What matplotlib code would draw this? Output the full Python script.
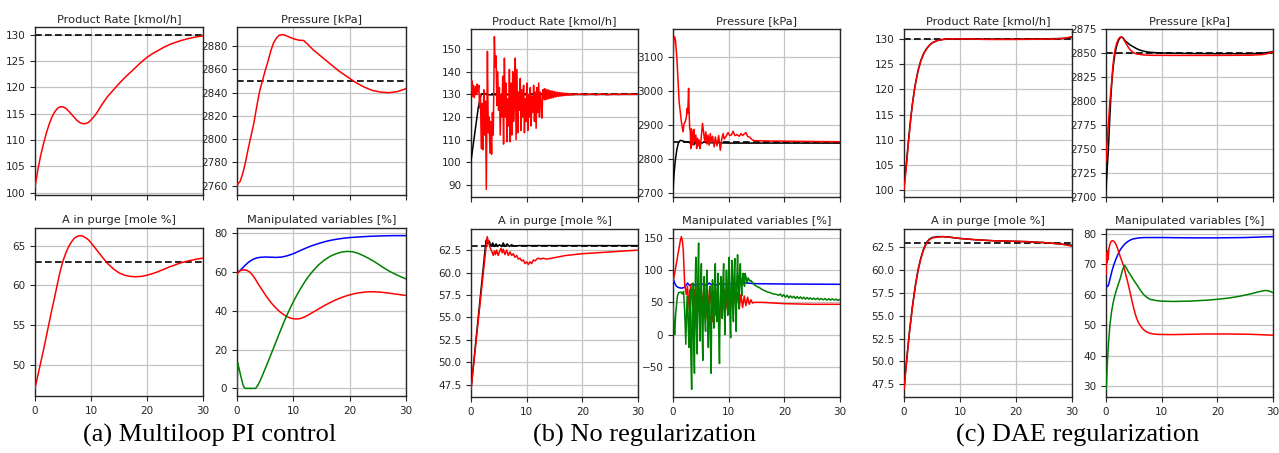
import numpy as np
import matplotlib
matplotlib.use('Agg')
import matplotlib.pyplot as plt
from matplotlib.ticker import MultipleLocator

# %%
# setpoints
sp_rate = 130
sp_press = 2850
sp_purge = 63

# ---- (a) Multiloop PI control ----
a_rate = [(0, 101.0), (0.5, 104.3), (1, 107.0), (1.5, 109.2), (2, 111.2), (2.5, 112.9), (3, 114.3),
          (3.5, 115.3), (4, 116.0), (4.5, 116.3), (5, 116.3), (5.5, 116.0), (6, 115.5), (6.5, 114.9),
          (7, 114.3), (7.5, 113.7), (8, 113.3), (8.5, 113.1), (9, 113.1), (9.5, 113.3), (10, 113.8),
          (10.5, 114.4), (11, 115.1), (12, 116.8), (13, 118.3), (14, 119.5), (15, 120.7), (16, 121.8),
          (17, 122.8), (18, 123.8), (19, 124.8), (20, 125.7), (21, 126.4), (22, 127.0), (23, 127.6),
          (24, 128.1), (25, 128.5), (26, 128.85), (27, 129.15), (28, 129.4), (29, 129.6), (30, 129.75)]
a_press = [(0, 2758.5), (0.2, 2762), (0.5, 2763), (1, 2770), (1.5, 2780), (2, 2792), (2.5, 2803),
           (3, 2814), (3.5, 2828), (4, 2841), (4.5, 2850), (5, 2859), (5.5, 2867), (6, 2876),
           (6.5, 2883), (7, 2887), (7.5, 2889.5), (8, 2890), (8.5, 2889.5), (9, 2888.5), (10, 2886.5),
           (11, 2885.2), (11.8, 2885), (12.5, 2882), (13.5, 2877), (15, 2871), (16.5, 2865), (18, 2859),
           (19.5, 2854), (21, 2849), (22.5, 2845), (24, 2842), (25.5, 2840.5), (27, 2840),
           (28.5, 2841), (30, 2843.5)]
a_purge = [(0, 47), (0.5, 48.6), (1, 50.2), (1.5, 51.8), (2, 53.5), (2.5, 55.2), (3, 56.9), (3.5, 58.5),
           (4, 60.2), (4.5, 61.8), (5, 63.1), (5.5, 64.1), (6, 64.9), (6.5, 65.5), (7, 65.95), (7.5, 66.2),
           (8, 66.3), (8.5, 66.25), (9, 66.05), (9.5, 65.8), (10, 65.4), (11, 64.5), (12, 63.6),
           (13, 62.75), (14, 62.1), (15, 61.6), (16, 61.3), (17, 61.15), (18, 61.1), (19, 61.15),
           (20, 61.3), (21, 61.5), (22, 61.75), (23, 62.05), (24, 62.35), (25, 62.6), (26, 62.85),
           (27, 63.05), (28, 63.2), (29, 63.35), (30, 63.45)]
a_mv_blue = [(0, 64.5), (0.1, 59.5), (0.5, 60.5), (1, 62), (1.5, 63.5), (2, 64.8), (2.5, 65.8), (3, 66.6),
             (3.5, 67.1), (4, 67.4), (5, 67.6), (6, 67.5), (7, 67.4), (8, 67.6), (9, 68.3), (10, 69.3),
             (11, 70.6), (12, 71.9), (13, 73.1), (14, 74.1), (15, 75.0), (16, 75.8), (17, 76.4),
             (18, 76.9), (19, 77.3), (20, 77.6), (22, 78.0), (24, 78.3), (26, 78.5), (28, 78.6), (30, 78.6)]
a_mv_red = [(0, 58.5), (0.3, 60), (0.7, 60.8), (1.2, 61), (1.7, 60.8), (2.2, 60), (2.7, 58.5), (3.2, 56.5),
            (3.7, 54), (4.2, 51.8), (4.7, 49.6), (5.2, 47.4), (5.7, 45.4), (6.2, 43.6), (6.7, 42.0),
            (7.2, 40.5), (7.7, 39.2), (8.2, 38.1), (8.7, 37.2), (9.2, 36.5), (9.7, 36.0), (10.2, 35.8),
            (10.7, 35.7), (11.2, 35.9), (11.7, 36.4), (12.5, 37.5), (13.5, 39.2), (14.5, 40.9),
            (15.5, 42.6), (16.5, 44.1), (17.5, 45.5), (18.5, 46.7), (19.5, 47.7), (20.5, 48.5),
            (21.5, 49.1), (22.5, 49.5), (23.5, 49.7), (24.5, 49.7), (25.5, 49.5), (26.5, 49.2),
            (27.5, 48.8), (28.5, 48.4), (29.5, 48.0), (30, 47.8)]
a_mv_green = [(0, 0), (0.15, 13), (0.3, 11), (0.7, 6), (1.1, 1.5), (1.4, 0), (3.3, 0), (3.7, 1.5),
              (4.2, 4.5), (4.7, 8), (5.2, 11.5), (5.7, 15), (6.2, 18.7), (6.7, 22.3), (7.2, 26),
              (7.7, 29.6), (8.2, 33.2), (8.7, 36.6), (9.2, 39.8), (9.7, 42.8), (10.2, 45.7), (10.7, 48.4),
              (11.2, 50.9), (11.7, 53.3), (12.2, 55.6), (12.7, 57.6), (13.5, 60.5), (14.5, 63.6),
              (15.5, 66.0), (16.5, 67.9), (17.5, 69.2), (18.5, 70.1), (19.5, 70.5), (20.5, 70.3),
              (21.5, 69.5), (22.5, 68.2), (23.5, 66.7), (24.5, 65.0), (25.5, 63.1), (26.5, 61.2),
              (27.5, 59.6), (28.5, 58.2), (29.5, 56.9), (30, 56.3)]

# ---- (b) No regularization ----
b_rate_black = [(0, 100.5), (1.3, 124), (1.8, 130), (2.5, 130.3), (3, 129.8), (30, 130)]
b_rate_red = [(0.0, 132), (0.15, 136), (0.3, 129), (0.45, 134), (0.6, 128.5), (0.8, 133.5), (0.95, 130),
              (1.1, 134.5), (1.25, 131), (1.4, 134), (1.55, 124), (1.7, 130), (1.85, 106), (2.0, 126),
              (2.15, 105.5), (2.3, 132), (2.45, 112), (2.6, 127), (2.75, 88), (2.95, 149), (3.1, 113),
              (3.25, 120), (3.4, 104), (3.55, 118), (3.7, 103.5), (3.85, 122), (4.0, 112), (4.2, 155.5),
              (4.35, 142), (4.5, 147), (4.65, 125), (4.8, 140), (4.95, 123), (5.1, 133), (5.25, 112),
              (5.4, 130), (5.55, 120), (5.7, 138), (5.85, 108), (6.0, 146), (6.15, 120), (6.3, 135),
              (6.45, 109), (6.6, 128), (6.75, 116), (6.9, 141), (7.05, 109), (7.2, 135), (7.35, 112),
              (7.5, 140), (7.65, 118), (7.8, 128), (7.95, 146), (8.1, 110), (8.25, 141), (8.4, 113),
              (8.55, 131), (8.7, 123), (8.85, 137), (9.0, 114), (9.15, 132), (9.3, 120), (9.45, 134),
              (9.6, 113), (9.75, 128), (9.9, 118), (10.05, 135), (10.2, 114), (10.35, 130), (10.5, 120),
              (10.65, 133), (10.8, 116), (10.95, 129), (11.1, 122), (11.25, 134), (11.4, 118),
              (11.55, 131), (11.7, 115), (11.85, 133), (12.0, 122), (12.15, 135), (12.3, 120),
              (12.45, 131), (12.6, 126), (12.75, 119.5), (12.9, 132), (13.05, 128), (13.2, 132.5),
              (13.3, 127.5), (13.45, 132.2), (13.6, 127.8), (13.75, 132), (13.9, 128), (14.05, 131.8),
              (14.2, 128.2), (14.35, 131.6), (14.5, 128.4), (14.65, 131.4), (14.8, 128.6), (14.95, 131.2),
              (15.1, 128.8), (15.25, 131.0), (15.4, 129.0), (15.55, 130.9), (15.7, 129.1), (15.85, 130.8),
              (16.0, 129.2), (16.15, 130.7), (16.3, 129.3), (16.45, 130.6), (16.6, 129.4), (16.75, 130.5),
              (16.9, 129.5), (17.05, 130.4), (17.2, 129.6), (17.35, 130.4), (17.5, 129.6), (17.65, 130.3),
              (17.8, 129.7), (17.95, 130.3), (18.1, 129.7), (18.25, 130.2), (18.4, 129.8), (18.6, 130.1),
              (19.5, 130), (20, 130.3), (20.3, 129.8), (21, 130), (22, 130.2), (22.3, 129.8), (23, 130),
              (24, 130.2), (24.3, 129.8), (25.5, 130), (26, 130.2), (26.3, 129.9), (27, 130), (30, 130)]
b_press_black = [(0, 2712), (0.2, 2760), (0.4, 2795), (0.7, 2830), (1.0, 2850), (1.3, 2856), (1.6, 2855),
                 (2.0, 2853), (2.4, 2851), (2.8, 2852), (3.2, 2846), (3.5, 2852), (3.8, 2844), (4.1, 2851),
                 (4.4, 2847), (4.8, 2851), (5.2, 2848), (5.6, 2851), (6, 2849), (8, 2849), (10, 2848),
                 (30, 2848)]
b_press_red = [(0.0, 3100), (0.15, 3150), (0.3, 3161), (0.45, 3150), (0.7, 3097), (1.1, 2970), (1.5, 2911),
               (1.8, 2881), (2.0, 2905), (2.2, 2911), (2.4, 2925), (2.55, 2950), (2.65, 2935), (2.8, 3009),
               (2.9, 2940), (3.0, 2891), (3.1, 2885), (3.2, 2832), (3.3, 2890), (3.45, 2880), (3.6, 2842),
               (3.75, 2888), (3.9, 2852), (4.1, 2872), (4.25, 2832), (4.4, 2862), (4.55, 2840),
               (4.7, 2857), (4.85, 2832), (5.0, 2850), (5.3, 2906), (5.5, 2880), (5.7, 2852), (5.9, 2881),
               (6.1, 2845), (6.3, 2872), (6.5, 2842), (6.7, 2876), (6.9, 2850), (7.1, 2868), (7.4, 2837),
               (7.6, 2866), (7.9, 2840), (8.2, 2870), (8.5, 2827), (8.75, 2860), (9.0, 2876), (9.2, 2860),
               (9.5, 2867), (9.9, 2879), (10.2, 2870), (10.5, 2872), (10.8, 2883), (11.1, 2870),
               (11.5, 2873), (11.9, 2868), (12.2, 2876), (12.5, 2870), (12.8, 2875), (13.1, 2879),
               (13.4, 2868), (13.8, 2865), (14.2, 2858), (14.6, 2855), (18, 2854), (24, 2853), (30, 2852)]
b_purge_black = [(0, 47), (2.7, 63.6), (3.0, 63.2), (3.3, 63.5), (3.6, 62.9), (3.9, 63.3), (4.2, 62.9),
                 (4.5, 63.2), (4.8, 62.9), (5.1, 63.1), (5.5, 62.9), (5.8, 63.3), (6.1, 62.9), (6.5, 63.2),
                 (6.9, 62.9), (7.3, 63.1), (7.7, 62.95), (8.5, 63), (30, 63)]
b_purge_red = [(0, 47), (2.9, 64.0), (3.1, 63.5), (3.4, 62.8), (3.7, 62.4), (4.0, 61.9), (4.2, 62.4),
               (4.4, 62.0), (4.6, 62.5), (4.9, 61.9), (5.1, 62.3), (5.4, 62.7), (5.6, 62.2), (5.8, 62.6),
               (6.1, 62.0), (6.4, 62.5), (6.7, 61.9), (7.0, 62.3), (7.3, 61.9), (7.6, 62.1), (7.9, 61.7),
               (8.2, 61.9), (8.5, 61.5), (8.8, 61.6), (9.1, 61.3), (9.4, 61.4), (9.7, 61.0), (10.0, 61.2),
               (10.3, 60.9), (10.6, 61.2), (10.9, 61.0), (11.2, 61.4), (11.5, 61.3), (12, 61.6),
               (12.5, 61.5), (13, 61.6), (13.5, 61.5), (14.5, 61.6), (17, 61.9), (20, 62.1), (25, 62.3),
               (30, 62.5)]
b_mv_blue = [(0, 88), (0.3, 80), (0.6, 75), (1, 73), (1.5, 72), (2, 73), (2.3, 76), (2.6, 80), (3, 76),
             (3.5, 79), (4, 76), (4.5, 80), (5, 77), (5.5, 79), (6, 76), (6.5, 80), (7, 77), (7.5, 79),
             (8, 76), (8.5, 80), (9, 77), (9.5, 79), (10, 78), (11, 79), (12, 81), (13, 80), (15, 79),
             (20, 78.5), (30, 78)]
b_mv_red = [(0, 83), (0.3, 95), (0.7, 115), (1.0, 130), (1.3, 145), (1.5, 152), (1.7, 145), (1.85, 130),
            (2.1, 78), (2.4, 62), (2.6, 75), (2.9, 40), (3.2, 78), (3.5, 45), (3.8, 70), (4.1, 30),
            (4.4, 76), (4.7, 35), (5.0, 72), (5.3, 45), (5.6, 78), (5.9, 25), (6.2, 70), (6.5, 40),
            (6.8, 75), (7.1, 20), (7.4, 68), (7.7, 30), (8.0, 72), (8.3, 10), (8.6, 65), (8.9, 35),
            (9.2, 70), (9.5, 40), (9.8, 65), (10.1, 35), (10.4, 60), (10.7, 40), (11.0, 68), (11.3, 42),
            (11.6, 65), (11.9, 40), (12.2, 62), (12.5, 42), (12.8, 60), (13.1, 45), (13.4, 58),
            (13.7, 47), (14.0, 54), (14.3, 49), (14.6, 50), (16, 50), (20, 48), (25, 47), (30, 47)]
b_mv_green = [(0, 47), (0.15, 20), (0.3, 0), (0.5, 35), (0.8, 60), (1.0, 65), (1.4, 66), (1.7, 63),
              (1.9, 67), (2.1, 35), (2.3, -15), (2.45, 40), (2.6, 60), (2.75, 10), (2.9, -20), (3.0, 45),
              (3.1, 70), (3.2, -30), (3.35, -85), (3.45, 20), (3.6, 80), (3.7, 0), (3.85, -60), (3.95, 60),
              (4.1, 120), (4.2, 10), (4.35, -30), (4.45, 80), (4.6, 142), (4.7, 40), (4.85, -10),
              (4.95, 70), (5.1, 110), (5.2, 20), (5.35, -40), (5.45, 50), (5.6, 90), (5.7, 30), (5.85, 5),
              (5.95, 70), (6.1, 100), (6.2, 30), (6.35, -20), (6.45, 40), (6.6, 75), (6.7, 0), (6.85, -60),
              (6.95, 40), (7.1, 85), (7.2, 40), (7.35, 10), (7.45, 70), (7.6, 110), (7.7, 50), (7.85, 20),
              (7.95, 60), (8.1, 95), (8.2, 10), (8.35, -45), (8.45, 40), (8.6, 90), (8.7, 50), (8.85, 25),
              (8.95, 80), (9.1, 110), (9.2, 40), (9.35, 0), (9.45, 60), (9.6, 100), (9.7, 60), (9.85, 30),
              (9.95, 90), (10.1, 120), (10.2, 40), (10.35, -5), (10.45, 70), (10.6, 115), (10.7, 60),
              (10.85, 20), (10.95, 90), (11.1, 118), (11.2, 50), (11.35, 5), (11.45, 80), (11.6, 124),
              (11.7, 80), (11.85, 40), (11.95, 90), (12.1, 110), (12.2, 80), (12.35, 60), (12.45, 85),
              (12.6, 95), (12.7, 80), (12.85, 75), (12.95, 95), (13.1, 90), (13.3, 80), (13.5, 88),
              (13.8, 83), (14.0, 84), (14.5, 78), (15, 75), (15.5, 73), (16, 70), (16.5, 68), (17, 66),
              (17.5, 65), (18, 63), (18.5, 62.5), (19, 61), (19.3, 63), (19.6, 59), (19.9, 62), (20.2, 58),
              (20.5, 61), (20.8, 57), (21.1, 60), (21.4, 57), (21.7, 59.5), (22, 56), (22.3, 59),
              (22.6, 56), (22.9, 58.5), (23.2, 55.5), (23.5, 58), (23.8, 55), (24.1, 57.5), (24.4, 55),
              (24.7, 57), (25, 54.5), (25.3, 56.5), (25.6, 54.5), (26, 56.5), (26.3, 54), (26.6, 56),
              (27, 54), (27.3, 56), (27.6, 53.5), (28, 55.5), (28.3, 53.5), (28.6, 55.5), (29, 53.5),
              (29.3, 55), (29.6, 53), (30, 54.5)]

# ---- (c) DAE regularization ----
c_rate_black = [(0, 100.7), (0.25, 103.4), (0.5, 106.2), (0.75, 109.3), (1.0, 112.1), (1.25, 114.8),
                (1.5, 117.1), (1.75, 119.1), (2.0, 120.9), (2.5, 123.7), (3.0, 125.7), (3.5, 127.1),
                (4.0, 128.0), (4.5, 128.7), (5.0, 129.2), (6, 129.7), (7, 129.9), (8, 130.0), (10, 130.0),
                (15, 129.95), (20, 129.95), (25, 130.0), (28.5, 130.1), (30, 130.3)]
c_rate_red = [(0, 100.2), (0.25, 102.8), (0.5, 105.7), (0.75, 109.0), (1.0, 111.8), (1.25, 114.6),
              (1.5, 117.0), (1.75, 119.0), (2.0, 120.8), (2.5, 123.6), (3.0, 125.6), (3.5, 127.0),
              (4.0, 128.0), (4.5, 128.7), (5.0, 129.2), (6, 129.7), (7, 129.9), (8, 130.0), (10, 130.0),
              (15, 129.9), (20, 129.9), (25, 129.95), (27, 130.0), (28.5, 130.1), (30, 130.45)]
c_press_black = [(0, 2708), (0.2, 2728), (0.42, 2749), (0.63, 2776), (0.84, 2801), (1.05, 2820),
                 (1.3, 2836), (1.6, 2849), (1.9, 2857), (2.2, 2862.5), (2.5, 2865.5), (2.8, 2866.7),
                 (3.1, 2865.5), (3.4, 2863), (3.7, 2861.5), (4.3, 2858.5), (4.9, 2856.5), (5.5, 2854.5),
                 (6.1, 2853), (6.7, 2852), (7.5, 2851), (8.5, 2850.5), (10, 2850), (15, 2849.5),
                 (20, 2849.3), (26, 2849.3), (28, 2849.8), (29, 2850.5), (30, 2851.5)]
c_press_red = [(0, 2737), (0.2, 2757), (0.42, 2775), (0.7, 2800), (1.0, 2819), (1.2, 2834), (1.4, 2845),
               (1.65, 2854), (1.9, 2860), (2.2, 2864), (2.5, 2866.5), (2.8, 2866.7), (3.1, 2865),
               (3.4, 2862), (3.7, 2859), (4.0, 2856), (4.4, 2853), (4.9, 2850.5), (5.5, 2849), (6.7, 2848),
               (8, 2847.6), (12, 2847.5), (20, 2847.5), (26, 2847.7), (28, 2848.3), (29, 2849.3),
               (30, 2851.5)]
c_purge_black = [(0, 47.0), (0.25, 48.7), (0.5, 50.3), (0.75, 51.9), (1.0, 53.4), (1.5, 56.0), (2.0, 58.2),
                 (2.5, 60.0), (3.0, 61.3), (3.5, 62.3), (4.0, 63.0), (4.5, 63.35), (5.0, 63.55), (6.0, 63.65),
                 (7.0, 63.65), (8.0, 63.6), (10, 63.45), (13, 63.3), (16, 63.2), (19, 63.15), (22, 63.1),
                 (25, 63.0), (27, 62.9), (28.5, 62.8), (30, 62.7)]
c_purge_red = [(0, 46.95), (0.25, 48.6), (0.5, 50.2), (0.75, 51.8), (1.0, 53.3), (1.5, 55.9), (2.0, 58.1),
               (2.5, 59.9), (3.0, 61.2), (3.5, 62.2), (4.0, 62.9), (4.5, 63.3), (5.0, 63.5), (6.0, 63.6),
               (7.0, 63.65), (8.0, 63.6), (10, 63.45), (13, 63.3), (16, 63.2), (19, 63.15), (22, 63.1),
               (25, 63.0), (27, 62.9), (28.5, 62.8), (30, 62.6)]
c_mv_blue = [(0, 62.9), (0.3, 62.7), (0.5, 63.5), (0.8, 65.8), (1.1, 68), (1.4, 69.8), (1.8, 71.8),
             (2.2, 73.5), (2.6, 74.9), (3.0, 75.9), (3.5, 76.9), (4, 77.6), (4.5, 78.1), (5, 78.4),
             (6, 78.7), (7, 78.8), (10, 78.8), (15, 78.7), (20, 78.7), (25, 78.8), (28, 79.0), (30, 79.1)]
c_mv_red = [(0, 66.8), (0.1, 73.8), (0.2, 70.5), (0.3, 74.5), (0.4, 71.5), (0.5, 75), (0.7, 76.6),
            (0.9, 77.5), (1.15, 77.8), (1.4, 77.6), (1.7, 76.9), (2.0, 75.6), (2.3, 74.0), (2.6, 72.3),
            (2.9, 70.8), (3.2, 69.3), (3.5, 67.0), (3.8, 64.9), (4.1, 62.6), (4.4, 60.2), (4.7, 57.7),
            (5.0, 55.4), (5.3, 53.4), (5.6, 51.8), (5.9, 50.6), (6.3, 49.5), (6.7, 48.6), (7.2, 47.9),
            (7.8, 47.4), (8.5, 47.1), (9.5, 46.95), (12, 46.9), (18, 47.1), (22, 47.1), (26, 47.0),
            (30, 46.7)]
c_mv_green = [(0, 28.9), (0.1, 31), (0.25, 38), (0.45, 44), (0.7, 50), (1.0, 54.5), (1.3, 57.5),
              (1.6, 59.8), (1.9, 61.7), (2.2, 63.4), (2.6, 65.6), (3.0, 68.3), (3.3, 69.7), (3.6, 69.0),
              (4.0, 67.6), (4.3, 66.8), (4.9, 65.0), (5.5, 63.4), (6.1, 61.7), (6.7, 60.2), (7.3, 59.2),
              (7.9, 58.5), (9, 58.1), (10, 57.9), (12, 57.8), (15, 57.9), (18, 58.2), (20, 58.5),
              (22, 58.9), (24, 59.5), (26, 60.3), (27.5, 61.0), (28.5, 61.4), (29.2, 61.3), (30, 60.7)]

titles = ['Product Rate [kmol/h]', 'Pressure [kPa]', 'A in purge [mole %]', 'Manipulated variables [%]']
captions = ['(a) Multiloop PI control', '(b) No regularization', '(c) DAE regularization']

# %%
W, H = 1279, 453
fig = plt.figure(figsize=(W / 100, H / 100), dpi=100)


def px_axes(x0, y0, x1, y1):
    return fig.add_axes([x0 / W, 1 - y1 / H, (x1 - x0) / W, (y1 - y0) / H])


def draw(ax, series, setpoint=None):
    if setpoint is not None:
        ax.axhline(setpoint, color='k', ls=(0, (4, 2)), lw=1.2, zorder=2)
    for data, col in series:
        d = np.array(data).T
        ax.plot(d[0], d[1], color=col, lw=1.1, zorder=3)


# pixel boxes for each group: (left-col x0, x1, right-col x0, x1, top y0, y1, bottom y0, y1)
groups = [
    (35, 203, 237, 406, 27, 195, 228, 396),
    (471, 638, 673, 840, 29, 197, 229, 397),
    (904, 1072, 1106, 1273, 29, 197, 229, 397),
]

panel_series = [
    [([(a_rate, 'red')], sp_rate), ([(a_press, 'red')], sp_press),
     ([(a_purge, 'red')], sp_purge), ([(a_mv_blue, 'blue'), (a_mv_red, 'red'), (a_mv_green, 'green')], None)],
    [([(b_rate_black, 'k'), (b_rate_red, 'red')], sp_rate),
     ([(b_press_black, 'k'), (b_press_red, 'red')], sp_press),
     ([(b_purge_black, 'k'), (b_purge_red, 'red')], sp_purge),
     ([(b_mv_blue, 'blue'), (b_mv_red, 'red'), (b_mv_green, 'green')], None)],
    [([(c_rate_black, 'k'), (c_rate_red, 'red')], sp_rate),
     ([(c_press_black, 'k'), (c_press_red, 'red')], sp_press),
     ([(c_purge_black, 'k'), (c_purge_red, 'red')], sp_purge),
     ([(c_mv_blue, 'blue'), (c_mv_red, 'red'), (c_mv_green, 'green')], None)],
]

y_steps = [
    [5, 20, 5, 20],
    [10, 100, 2.5, 50],
    [5, 25, 2.5, 10],
]

for g, (lx0, lx1, rx0, rx1, ty0, ty1, by0, by1) in enumerate(groups):
    boxes = [(lx0, ty0, lx1, ty1), (rx0, ty0, rx1, ty1), (lx0, by0, lx1, by1), (rx0, by0, rx1, by1)]
    for k, box in enumerate(boxes):
        ax = px_axes(*box)
        series, sp = panel_series[g][k]
        draw(ax, series, sp)
        ax.set_xlim(0, 30)
        if g == 2 and k == 1:
            ax.set_ylim(2700, 2875)
        ax.xaxis.set_major_locator(MultipleLocator(10))
        ax.yaxis.set_major_locator(MultipleLocator(y_steps[g][k]))
        ax.grid(True, color='#c4c4c4', lw=0.9, zorder=0)
        ax.set_axisbelow(True)
        ax.tick_params(labelsize=7.5, colors='#262626', length=3.5, width=0.8)
        for s in ax.spines.values():
            s.set_color('#262626')
            s.set_linewidth(1.0)
        ax.set_title(titles[k], fontsize=8.2, color='#262626', pad=3.6)
        if k < 2:
            ax.tick_params(labelbottom=False)
    cx = (lx0 + rx1) / 2 - 11
    fig.text(cx / W, (H - 441.5) / H, captions[g], ha='center', va='baseline',
             fontsize=19, family='Liberation Serif')

fig.savefig('out.png', dpi=100)
